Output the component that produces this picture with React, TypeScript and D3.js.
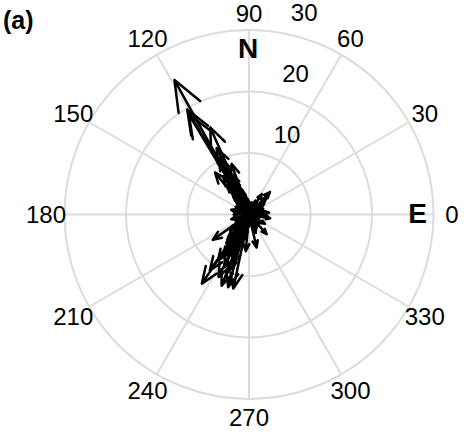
import React from "react";
import * as d3 from "d3";

// Angle tick labels (degrees) and radial ring values
const angleTicks = [0, 30, 60, 90, 120, 150, 180, 210, 240, 270, 300, 330];
const radialTicks = [10, 20, 30];

// Vector directions (deg, counter-clockwise from East) and magnitudes
const directionDeg = [
  // NNW cluster
  119, 120.5, 121, 114, 116, 118, 129, 109, 117, 124, 112, 120, 126, 115, 110, 122, 130, 105, 118, 135, 100, 125, 140, 95,
  113, 119, 123, 127, 111, 132, 108, 121,
  // ENE small
  47, 58, 44, 22, 35, 65, 10, 80, 52, 30,
  // East / South-east small
  312, 283, 330, 350, 300, 270, 5, 355, 320, 290, 340,
  // West small
  180, 165, 195, 150, 170, 200, 155,
  // SSW cluster
  235.7, 235, 215, 258, 254, 249, 244, 239, 245, 250, 232, 228, 240, 250, 220, 260, 225, 245, 210, 265,
  236, 242, 247, 252, 230, 238, 218, 256,
];
const magnitude = [
  25.0, 19.8, 19.0, 15.5, 12.0, 10.5, 8.8, 8.7, 8.0, 7.5, 7.0, 6.5, 6.0, 5.5, 5.0, 4.5, 4.0, 4.0, 3.5, 3.0, 3.0, 2.5, 2.0, 2.5,
  6.2, 7.2, 5.2, 4.6, 3.6, 3.2, 2.8, 2.2,
  5.0, 3.9, 4.0, 2.5, 3.0, 2.5, 2.8, 2.0, 2.2, 1.8,
  4.3, 5.5, 3.0, 3.5, 2.5, 2.0, 3.3, 3.0, 2.2, 3.2, 1.8,
  2.5, 3.0, 3.0, 2.5, 1.8, 2.0, 1.6,
  13.6, 11.1, 7.2, 12.3, 12.3, 12.4, 11.3, 8.1, 9.5, 10.0, 6.0, 5.0, 5.5, 4.5, 4.0, 3.5, 3.0, 2.5, 2.5, 6.0,
  9.0, 7.5, 6.8, 8.5, 3.5, 2.0, 2.8, 4.8,
];

const panelLabel = "(a)";
const northLabel = "N";
const eastLabel = "E";

export default function App() {
  const width = 466;
  const height = 432;
  const cx = 249;
  const cy = 214.5;
  const rmax = 184.5;
  const r = d3.scaleLinear().domain([0, 30]).range([0, rmax]);
  const grid = "#dcdcdc";
  const font = "'Liberation Sans', Arial, Helvetica, sans-serif";

  const pt = (deg: number, px: number): [number, number] => {
    const a = (deg * Math.PI) / 180;
    return [cx + px * Math.cos(a), cy - px * Math.sin(a)];
  };

  const line = d3.line<[number, number]>();

  const arrows = directionDeg.map((deg, i) => {
    const m = r(magnitude[i]);
    const a = (deg * Math.PI) / 180;
    const ux = Math.cos(a);
    const uy = -Math.sin(a);
    const px = -uy;
    const py = ux;
    const tip: [number, number] = [cx + m * ux, cy + m * uy];
    const base: [number, number] = [cx + 0.8 * m * ux, cy + 0.8 * m * uy];
    const w1: [number, number] = [base[0] + 0.08 * m * px, base[1] + 0.08 * m * py];
    const w2: [number, number] = [base[0] - 0.08 * m * px, base[1] - 0.08 * m * py];
    return line([[cx, cy], tip, w1, tip, w2]) as string;
  });

  return (
    <svg
      width={width}
      height={height}
      style={{ position: "absolute", left: 0, top: 0, background: "#fff" }}
      fontFamily={font}
    >
      <rect width={width} height={height} fill="#fff" />
      {angleTicks.slice(0, 6).map((t) => {
        const [x1, y1] = pt(t, rmax);
        const [x2, y2] = pt(t + 180, rmax);
        return <line key={"s" + t} x1={x1} y1={y1} x2={x2} y2={y2} stroke={grid} strokeWidth={2} />;
      })}
      {radialTicks.map((v) => (
        <circle key={"c" + v} cx={cx} cy={cy} r={r(v)} fill="none" stroke={grid} strokeWidth={2} />
      ))}
      {angleTicks.map((t) => {
        const [x, y] = pt(t, 1.1 * rmax);
        return (
          <text key={"a" + t} x={x} y={t === 90 ? y + 1.5 : y} dy="0.36em" textAnchor="middle" fontSize={24} fill="#000">
            {t}
          </text>
        );
      })}
      {radialTicks.map((v) => {
        const [x, y] = pt(82, r(v));
        return (
          <text key={"r" + v} x={x + 29.5} y={y - 19} dy="0.36em" textAnchor="middle" fontSize={24} fill="#000">
            {v}
          </text>
        );
      })}
      <g fill="none" stroke="#000" strokeWidth={2.5} strokeLinejoin="round" strokeLinecap="round">
        {arrows.map((d, i) => (
          <path key={"v" + i} d={d} />
        ))}
      </g>
      <text x={248} y={47.5} dy="0.36em" textAnchor="middle" fontSize={28} fontWeight="bold" fill="#000">
        {northLabel}
      </text>
      <text x={417.5} y={212.5} dy="0.36em" textAnchor="middle" fontSize={28} fontWeight="bold" fill="#000">
        {eastLabel}
      </text>
      <text x={3} y={29} fontSize={25} fontWeight="bold" fill="#000">
        {panelLabel}
      </text>
    </svg>
  );
}
